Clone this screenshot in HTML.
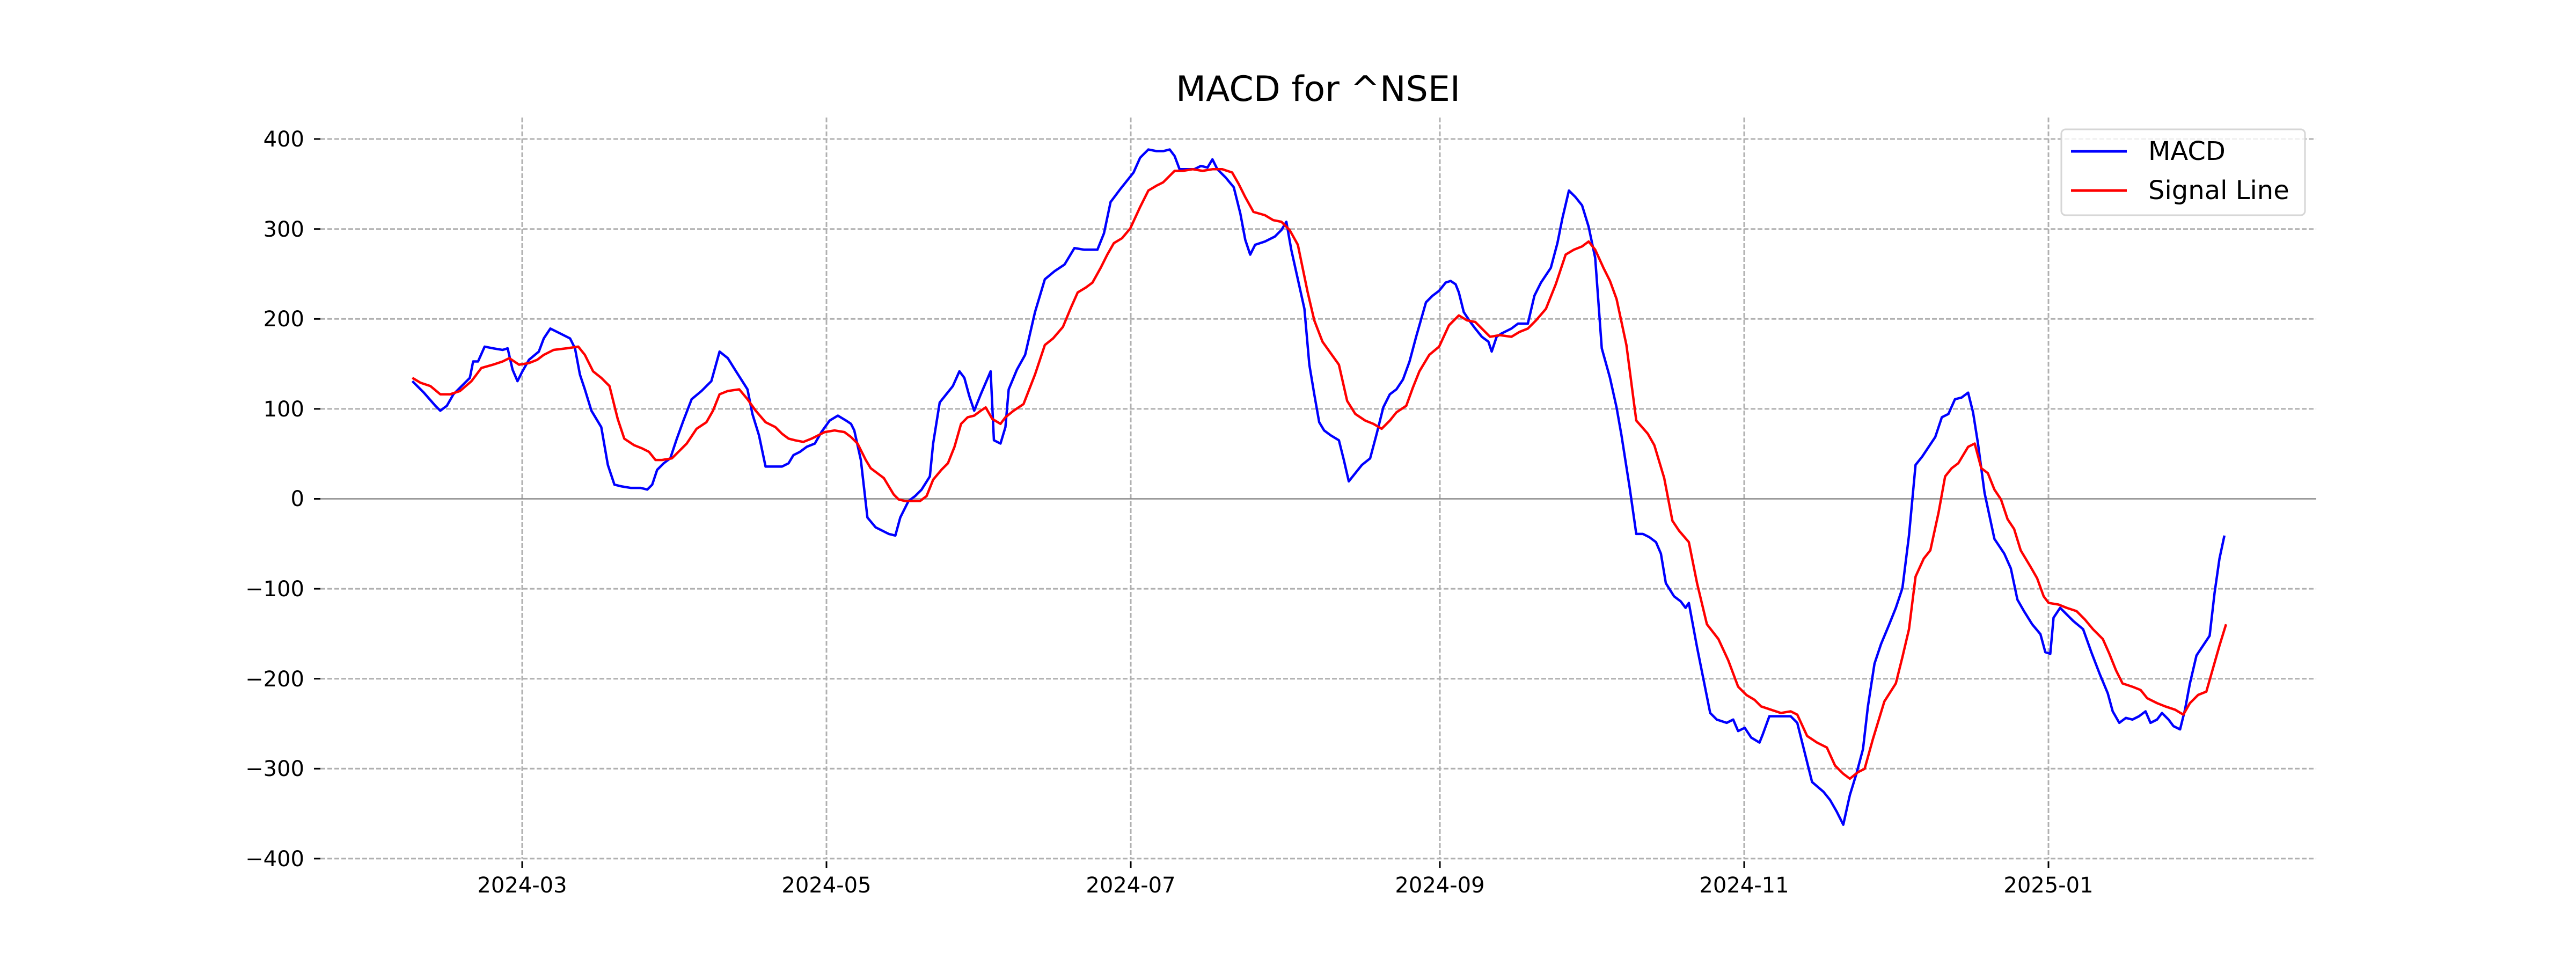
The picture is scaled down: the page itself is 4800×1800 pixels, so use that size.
<!DOCTYPE html>
<html><head><meta charset="utf-8"><style>html,body{margin:0;padding:0;background:#fff}svg{display:block}</style></head><body>
<svg width="4800" height="1800" viewBox="0 0 4800 1800" xmlns="http://www.w3.org/2000/svg" font-family="'DejaVu Sans','Liberation Sans',sans-serif">
<rect width="4800" height="1800" fill="#fff"/>
<text x="2456" y="188" font-size="65" text-anchor="middle">MACD for ^NSEI</text>
<g stroke="#b0b0b0" stroke-width="3" stroke-dasharray="9,4">
<line x1="597" x2="4316" y1="259" y2="259"/><line x1="597" x2="4316" y1="426.7" y2="426.7"/><line x1="597" x2="4316" y1="594.3" y2="594.3"/><line x1="597" x2="4316" y1="761.9" y2="761.9"/>
<line x1="597" x2="4316" y1="1097.1" y2="1097.1"/><line x1="597" x2="4316" y1="1264.7" y2="1264.7"/><line x1="597" x2="4316" y1="1432.3" y2="1432.3"/><line x1="597" x2="4316" y1="1599.9" y2="1599.9"/>
<line x1="973" x2="973" y1="219" y2="1600"/><line x1="1540" x2="1540" y1="219" y2="1600"/><line x1="2107" x2="2107" y1="219" y2="1600"/><line x1="2683" x2="2683" y1="219" y2="1600"/><line x1="3250" x2="3250" y1="219" y2="1600"/><line x1="3817" x2="3817" y1="219" y2="1600"/>
</g>
<line x1="597" x2="4316" y1="929.5" y2="929.5" stroke="#888" stroke-width="2.5"/>
<g stroke="#000" stroke-width="3">
<line x1="585" x2="597" y1="259" y2="259"/><line x1="585" x2="597" y1="426.7" y2="426.7"/><line x1="585" x2="597" y1="594.3" y2="594.3"/><line x1="585" x2="597" y1="761.9" y2="761.9"/><line x1="585" x2="597" y1="929.5" y2="929.5"/><line x1="585" x2="597" y1="1097.1" y2="1097.1"/><line x1="585" x2="597" y1="1264.7" y2="1264.7"/><line x1="585" x2="597" y1="1432.3" y2="1432.3"/><line x1="585" x2="597" y1="1599.9" y2="1599.9"/>
<line x1="973" x2="973" y1="1605" y2="1617"/><line x1="1540" x2="1540" y1="1605" y2="1617"/><line x1="2107" x2="2107" y1="1605" y2="1617"/><line x1="2683" x2="2683" y1="1605" y2="1617"/><line x1="3250" x2="3250" y1="1605" y2="1617"/><line x1="3817" x2="3817" y1="1605" y2="1617"/>
</g>
<g font-size="40" text-anchor="end">
<text x="567" y="273">400</text><text x="567" y="441">300</text><text x="567" y="608">200</text><text x="567" y="776">100</text><text x="567" y="943">0</text><text x="567" y="1111">−100</text><text x="567" y="1279">−200</text><text x="567" y="1446">−300</text><text x="567" y="1614">−400</text>
</g>
<g font-size="40" text-anchor="middle">
<text x="973" y="1663">2024-03</text><text x="1540" y="1663">2024-05</text><text x="2107" y="1663">2024-07</text><text x="2683" y="1663">2024-09</text><text x="3250" y="1663">2024-11</text><text x="3817" y="1663">2025-01</text>
</g>
<g transform="scale(3.0612)" fill="none" stroke-linejoin="round">
<polyline vector-effect="non-scaling-stroke" stroke="#0000ff" stroke-width="4.5" points="251,232 258,239 265,247 268,250 272,247 276,240 282,234 286,230 288,220 291,220 295,211 300,212 306,213 309,212 312,225 315,232 318,226 322,219 328,214 331,206 335,200 341,203 347,206 350,212 353,228 356,237 360,250 366,260 370,283 374,295 378,296 384,297 390,297 394,298 397,295 400,286 404,282 408,279 412,267 416,256 421,243 427,238 433,232 438,214 443,218 448,226 455,237 458,252 462,265 466,284 470,284 476,284 480,282 483,277 487,275 491,272 496,270 500,263 505,256 510,253 515,256 518,258 520,262 524,280 528,315 533,321 537,323 541,325 545,326 548,315 553,305 557,302 561,298 566,290 568,270 572,245 576,240 580,235 584,226 587,230 590,241 593,250 597,240 600,233 603,226 605,268 609,270 612,260 614,237 619,225 624,216 630,190 636,170 642,165 648,161 654,151 660,152 668,152 672,142 676,123 682,115 686,110 690,105 694,96 699,91 704,92 708,92 712,91 715,95 718,103 722,103 727,103 731,101 735,102 738,97 741,103 746,108 751,114 755,130 758,146 761,155 764,149 770,147 776,144 780,140 783,135 786,152 790,170 794,188 797,222 800,240 803,257 806,262 810,265 815,268 818,280 821,293 825,288 829,283 834,279 838,264 842,248 846,240 850,237 854,231 858,220 862,205 868,184 872,180 876,177 880,172 883,171 886,173 888,178 891,190 895,196 898,200 902,205 906,208 908,214 911,205 914,203 920,200 924,197 930,197 934,180 938,172 944,163 948,148 951,133 955,116 959,120 963,125 967,138 971,157 975,212 980,230 984,248 987,265 992,297 996,325 1000,325 1004,327 1008,330 1011,337 1014,355 1019,363 1023,366 1026,370 1028,367 1033,394 1037,414 1041,434 1045,438 1051,440 1055,438 1058,445 1062,443 1066,449 1071,452 1073,447 1077,436 1083,436 1090,436 1094,440 1099,460 1103,476 1110,482 1114,487 1118,494 1122,502 1126,484 1130,471 1134,456 1137,430 1141,404 1145,392 1150,380 1154,370 1158,358 1162,326 1166,283 1170,278 1174,272 1178,266 1182,254 1186,252 1190,243 1194,242 1198,239 1201,251 1204,270 1208,300 1214,328 1220,337 1224,346 1228,365 1232,372 1237,380 1242,386 1245,397 1248,398 1250,376 1254,370 1258,374 1262,378 1268,383 1273,397 1278,410 1283,422 1286,433 1290,440 1294,437 1298,438 1302,436 1306,433 1309,440 1313,438 1316,434 1320,438 1323,442 1327,444 1330,432 1333,416 1337,399 1341,393 1345,387 1348,361 1351,340 1354,326"/>
<polyline vector-effect="non-scaling-stroke" stroke="#ff0000" stroke-width="4.5" points="251,230 256,233 262,235 268,240 274,240 280,238 287,232 293,224 300,222 306,220 310,218 316,222 322,221 327,219 331,216 337,213 345,212 352,211 356,216 361,226 366,230 371,235 376,255 380,267 386,271 391,273 395,275 399,280 403,280 409,279 413,275 418,270 424,261 430,257 434,250 438,240 443,238 450,237 455,243 460,250 466,257 472,260 476,264 480,267 484,268 489,269 494,267 498,265 502,263 508,262 514,263 518,266 522,270 527,280 530,285 534,288 538,291 541,296 544,301 547,304 551,305 556,305 560,305 564,302 568,292 573,286 577,282 581,272 585,258 589,254 593,253 597,250 600,248 604,255 609,258 612,254 617,250 623,246 630,228 636,210 641,206 647,199 652,187 656,178 661,175 665,172 670,163 674,155 678,148 683,145 688,139 694,126 699,116 704,113 708,111 712,107 715,104 720,104 726,103 732,104 738,103 744,103 750,105 754,112 758,120 763,129 770,131 775,134 780,135 785,140 790,149 796,178 800,195 805,208 810,215 815,222 820,244 825,252 831,256 836,258 841,261 846,256 850,251 856,247 860,236 864,226 870,216 876,211 882,198 888,192 893,195 898,196 902,200 907,205 913,204 920,205 925,202 930,200 935,195 941,188 947,173 953,155 958,152 963,150 967,147 971,152 976,163 980,171 984,182 990,210 996,256 1003,264 1007,271 1013,291 1018,317 1022,323 1028,330 1033,355 1039,380 1046,389 1052,402 1058,418 1063,423 1068,426 1072,430 1078,432 1084,434 1090,433 1094,435 1100,448 1106,452 1112,455 1117,466 1122,471 1126,474 1131,470 1135,468 1140,450 1147,427 1154,416 1158,400 1162,383 1166,351 1171,340 1175,335 1180,312 1184,290 1188,285 1192,282 1198,272 1202,270 1206,285 1210,288 1214,298 1218,304 1222,316 1226,322 1230,335 1236,345 1240,352 1244,363 1247,367 1253,368 1258,370 1264,372 1269,377 1274,383 1280,389 1284,398 1288,408 1292,416 1298,418 1303,420 1307,425 1313,428 1318,430 1324,432 1329,435 1333,428 1338,423 1343,421 1347,407 1351,393 1355,380"/>
</g>
<rect x="3841" y="241" width="454" height="160" rx="8" fill="#fff" fill-opacity="0.8" stroke="#d6d6d6" stroke-width="3"/>
<line x1="3859" x2="3963" y1="282" y2="282" stroke="#0000ff" stroke-width="5"/>
<line x1="3859" x2="3963" y1="355" y2="355" stroke="#ff0000" stroke-width="5"/>
<text x="4003" y="298" font-size="48">MACD</text>
<text x="4003" y="371" font-size="48">Signal Line</text>
</svg>
</body></html>
